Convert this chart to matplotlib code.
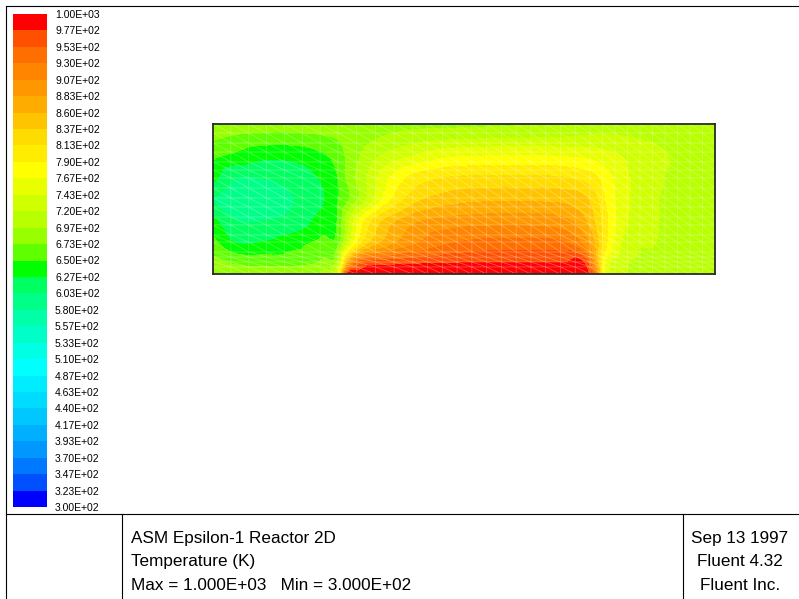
import numpy as np
import matplotlib
matplotlib.use('Agg')
import matplotlib.pyplot as plt
import matplotlib.tri as mtri
from matplotlib.colors import ListedColormap, BoundaryNorm
from matplotlib.cm import ScalarMappable

plt.rcParams['font.family'] = ['Liberation Sans', 'DejaVu Sans']

# contour levels (K)
t_min = 300.0
t_max = 1000.0
n_bands = 30

# Fluent style band colours, bottom (cold) to top (hot)
band_colors = ['#0000ff', '#0050ff', '#0078ff', '#0098ff', '#00b0ff', '#00c8ff',
               '#00dcff', '#00ecff', '#00ffff', '#00ffe4', '#00ffc8', '#00ffa8',
               '#00ff88', '#00ff60', '#00ff00', '#60ff00', '#98ff00', '#b8ff00',
               '#d0ff00', '#e8ff00', '#ffff00', '#ffec00', '#ffdc00', '#ffc400',
               '#ffac00', '#ff9800', '#ff8400', '#ff6e00', '#ff5000', '#ff0000']

# sample positions across the reactor (fraction of length / height)
u_nodes = [0, .04, .1, .16, .22, .25, .27, .3, .34, .4, .47, .55, .63, .7, .74, .76, .78, .82, .88, .94, 1.0]
v_nodes = [0, .07, .2, .35, .5, .65, .8, .93, 1.0]

# temperature, one row per height
t_v000 = [692, 688, 686, 688, 705, 760, 990, 1000, 1000, 1000, 1000, 1000, 1000, 1000, 995, 930, 770, 722, 716, 713, 712]
t_v007 = [682, 672, 668, 668, 682, 715, 880, 958, 968, 974, 977, 979, 979, 978, 975, 890, 770, 724, 716, 712, 711]
t_v020 = [660, 630, 630, 642, 660, 670, 742, 822, 868, 905, 930, 940, 940, 935, 900, 860, 800, 735, 720, 713, 710]
t_v035 = [635, 606, 604, 612, 638, 655, 718, 788, 840, 878, 893, 898, 898, 890, 864, 836, 800, 748, 722, 714, 710]
t_v050 = [605, 590, 592, 603, 625, 650, 672, 712, 772, 826, 848, 855, 855, 852, 842, 822, 790, 750, 722, 714, 710]
t_v065 = [635, 607, 606, 615, 632, 652, 682, 712, 755, 795, 812, 815, 815, 812, 802, 794, 778, 748, 724, 714, 710]
t_v080 = [658, 648, 635, 635, 648, 662, 680, 700, 720, 740, 758, 762, 763, 760, 757, 754, 749, 740, 725, 714, 710]
t_v093 = [680, 674, 670, 670, 674, 678, 682, 688, 695, 703, 707, 710, 712, 715, 718, 720, 720, 718, 714, 711, 710]
t_v100 = [690, 686, 685, 685, 688, 690, 690, 690, 690, 690, 690, 692, 695, 700, 702, 703, 704, 705, 706, 707, 708]

title_lines = ['ASM Epsilon-1 Reactor 2D', 'Temperature (K)',
               'Max = 1.000E+03   Min = 3.000E+02']
info_lines = ['Sep 13 1997', 'Fluent 4.32', 'Fluent Inc.']


def grid_triangles(nx, ny):
    # split every quad along its top-left to bottom-right diagonal
    tris = []
    for j in range(ny - 1):
        for i in range(nx - 1):
            bl = j * nx + i
            br = bl + 1
            tl = bl + nx
            tr = tl + 1
            tris.append([tl, bl, br])
            tris.append([tl, br, tr])
    return tris


levels = np.linspace(t_min, t_max, n_bands + 1)
cmap = ListedColormap(band_colors)
cmap.set_over(band_colors[-1])
cmap.set_under(band_colors[0])
norm = BoundaryNorm(levels, cmap.N)

fig = plt.figure(figsize=(7.99, 5.99), dpi=100)

# page frame and title block, in pixel units
bg = fig.add_axes([0, 0, 1, 1])
bg.set_xlim(0, 799)
bg.set_ylim(599, 0)
bg.axis('off')
frame_kw = dict(color='black', lw=0.8)
bg.plot([6, 799], [6, 6], **frame_kw)
bg.plot([6, 6], [6, 599], **frame_kw)
bg.plot([6, 799], [514, 514], **frame_kw)
bg.plot([122, 122], [514, 599], **frame_kw)
bg.plot([683, 683], [514, 599], **frame_kw)
for k, line in enumerate(title_lines):
    bg.text(131, 538 + 23.5 * k, line, fontsize=12.3, va='center', ha='left')
for k, line in enumerate(info_lines):
    bg.text(740, 538 + 23.5 * k, line, fontsize=12.3, va='center', ha='center')

# contour plot
ax = fig.add_axes([213 / 799, 1 - 274 / 599, 502 / 799, 150 / 599])
U, V = np.meshgrid(u_nodes, v_nodes)
T = np.array([t_v000, t_v007, t_v020, t_v035, t_v050, t_v065, t_v080, t_v093, t_v100], dtype=float)
tri = mtri.Triangulation(U.ravel(), V.ravel(), grid_triangles(len(u_nodes), len(v_nodes)))
interp = mtri.CubicTriInterpolator(tri, T.ravel(), kind='geom')
refiner = mtri.UniformTriRefiner(tri)
tri_fine, t_fine = refiner.refine_field(T.ravel(), triinterpolator=interp, subdiv=4)
ax.tricontourf(tri_fine, t_fine, levels=levels, cmap=cmap, norm=norm, extend='both')

# computational mesh overlay
mesh_u = np.concatenate([np.linspace(0, .249, 8), np.linspace(.249, .398, 5)[1:],
                         np.linspace(.398, .751, 13)[1:], np.linspace(.751, 1, 11)[1:]])
mesh_v = np.array([0, .047, .08, .113, .147, .213, .26, .327, .38, .447, .507,
                   .573, .64, .693, .747, .813, .873, .94, 1])
MU, MV = np.meshgrid(mesh_u, mesh_v)
mesh = mtri.Triangulation(MU.ravel(), MV.ravel(), grid_triangles(len(mesh_u), len(mesh_v)))
ax.triplot(mesh, color='white', lw=0.5, alpha=0.35)

ax.set_xlim(0, 1)
ax.set_ylim(0, 1)
ax.set_xticks([])
ax.set_yticks([])
for s in ax.spines.values():
    s.set_linewidth(1.3)
    s.set_color('#2a2a2a')

# colour legend
cax = fig.add_axes([12.7 / 799, 1 - 507 / 599, 34 / 799, 493 / 599])
cb = fig.colorbar(ScalarMappable(norm=norm, cmap=cmap), cax=cax, ticks=levels)
cb.outline.set_visible(False)
cb.ax.tick_params(length=0, pad=6, labelsize=7.5)
cb.ax.set_yticklabels(['{:.2E}'.format(t) for t in levels])

fig.savefig('out.png', dpi=100)
